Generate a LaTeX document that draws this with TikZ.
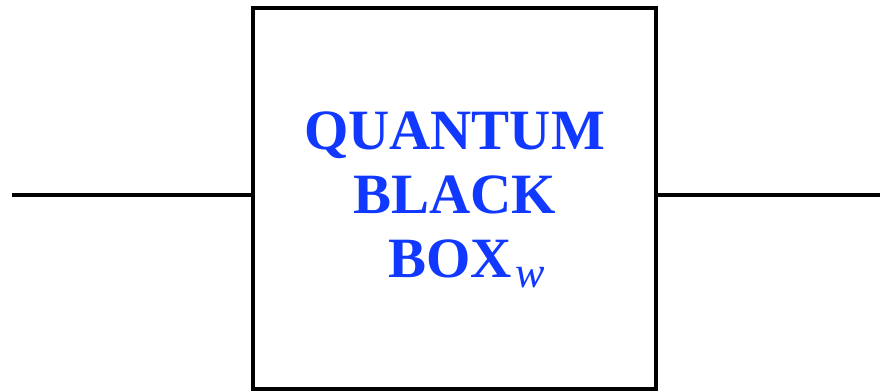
\documentclass[tikz,border=0pt]{standalone}
\usepackage{fontspec}
\setmainfont{Liberation Serif}
\usepackage{xcolor}
\usetikzlibrary{positioning}
\definecolor{qblue}{RGB}{16,56,255}

\begin{document}
\begin{tikzpicture}[x=1pt,y=-1pt,line width=4pt]
\useasboundingbox (0,0) rectangle (880,391);
\node[draw,minimum width=403pt,minimum height=381pt,inner sep=0pt](blackbox) at (454.5,198.5){};
\coordinate (inleft) at (12,194.5);
\coordinate (outright) at (880,194.5);
\draw (inleft)--(inleft -| blackbox.west);
\draw (outright -| blackbox.east)--(outright);
\node[qblue,align=center,anchor=base,inner sep=0pt,font=\bfseries\fontsize{57}{64}\selectfont](label) at (454.5,277)
{QUANTUM\\BLACK\\\hspace*{24pt}BOX{\fontsize{44}{44}\selectfont\hspace{3pt}\raisebox{-10pt}{\mdseries\itshape w}}};
\end{tikzpicture}
\end{document}
